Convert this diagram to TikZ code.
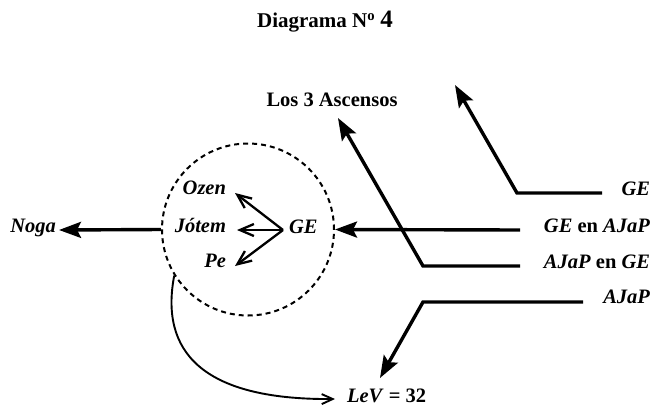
\documentclass[tikz,border=0pt]{standalone}
\usepackage{fontspec}
\setmainfont{Liberation Serif}
\usetikzlibrary{arrows.meta}
\begin{document}
\begin{tikzpicture}[x=1pt,y=-1pt,
  lbl/.style={font=\fontsize{20.5}{22}\selectfont\bfseries\itshape, inner sep=0pt, outer sep=0pt},
  upl/.style={font=\fontsize{20.5}{22}\selectfont\bfseries, inner sep=0pt, outer sep=0pt},
  ttl/.style={font=\fontsize{21}{24}\selectfont\bfseries, inner sep=0pt, outer sep=0pt},
  bigtip/.tip={Stealth[length=22pt,width=16pt,inset=4pt]},
  smalltip/.tip={Straight Barb[length=14pt,width=12pt]},
  curvetip/.tip={Straight Barb[length=11pt,width=10pt]},
  heavy/.style={line width=3.4pt, -bigtip},
  inner/.style={line width=2.3pt, -smalltip},
  ring/.style={circle, draw, line width=2pt, dash pattern=on 5pt off 4pt, minimum size=172pt, inner sep=0pt}
]
\useasboundingbox (0,0) rectangle (653,410);

% title and labels
\node[ttl] (title) at (325,22) {Diagrama N\textsuperscript{o} {\fontsize{25}{25}\selectfont 4}};
\node[upl] (asc) at (332,100) {Los 3 Ascensos};
\node[ring] (circ) at (248,229.5) {};
\node[lbl, anchor=mid east] (noga) at (56,230) {Noga};
\node[lbl, anchor=mid east] (ozen) at (226,192) {Ozen};
\node[lbl, anchor=mid east] (jotem) at (226,230) {Jótem};
\node[lbl, anchor=mid east] (pe) at (226,265) {Pe};
\node[lbl, anchor=mid west] (ge) at (289,231) {GE};

\node[lbl, anchor=mid east] (r1) at (650,193) {GE};
\node[upl, anchor=mid east] (r2) at (650,230) {\textit{GE} en \textit{AJaP}};
\node[upl, anchor=mid east] (r3) at (650,266) {\textit{AJaP} en \textit{GE}};
\node[lbl, anchor=mid east] (r4) at (650,301) {AJaP};
\node[upl, anchor=mid west] (lev) at (347,400) {\textit{LeV} = 32};

% coordinates of connectors
\coordinate (a1s) at (602,193);
\coordinate (a1c) at (517,193);
\coordinate (a1t) at (455,85);
\coordinate (a2s) at (520,230);
\coordinate (a3s) at (520,266);
\coordinate (a3c) at (423,266);
\coordinate (a3t) at (338,118);
\coordinate (a4s) at (583,302);
\coordinate (a4c) at (423,302);
\coordinate (a4t) at (380,378);
\coordinate (nogat) at (59,230);
\coordinate (g0) at (283,230);
\coordinate (oz) at (235,193);
\coordinate (jt) at (237,230);
\coordinate (pt) at (235,266);
\coordinate (levt) at (335,399);

% heavy arrows
\draw[heavy] (a1s) -- (a1c) -- (a1t);
\draw[heavy] (a2s) -- (circ.east);
\draw[heavy] (a3s) -- (a3c) -- (a3t);
\draw[heavy] (a4s) -- (a4c) -- (a4t);
\draw[heavy] (circ.west) -- (nogat);

% inner arrows
\draw[inner] (g0) -- (oz);
\draw[inner] (g0) -- (jt);
\draw[inner] (g0) -- (pt);

% curve
\draw[line width=1.9pt, -curvetip] (circ.212) .. controls (160,350) and (200,400) .. (levt);
\end{tikzpicture}
\end{document}
